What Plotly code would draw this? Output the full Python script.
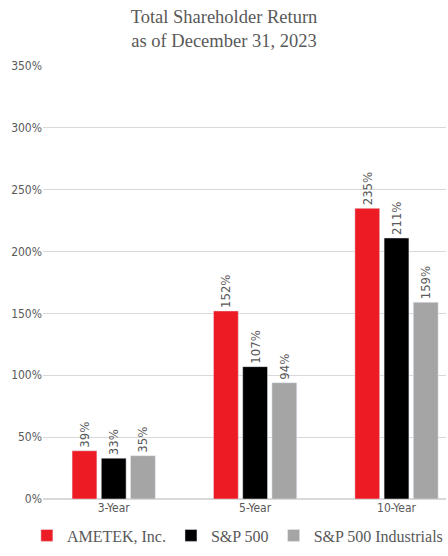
import plotly.graph_objects as go

periods = ["3-Year", "5-Year", "10-Year"]
ametek = [39, 152, 235]
sp500 = [33, 107, 211]
sp500_ind = [35, 94, 159]

series = [
    ("AMETEK, Inc.", ametek, "#ED1C24"),
    ("S&P 500", sp500, "#000000"),
    ("S&P 500 Industrials", sp500_ind, "#A5A5A5"),
]

sans = "Liberation Sans Narrow, DejaVu Sans Condensed, Arial"
serif = "Liberation Serif, Times New Roman"

fig = go.Figure()
for name, vals, color in series:
    fig.add_trace(go.Bar(
        x=periods, y=vals, name=name, marker_color=color,
        text=[f"{v}%" for v in vals], textposition="outside",
        textangle=-90, cliponaxis=False, constraintext="none",
        textfont=dict(family=sans, size=13, color="#595959"),
    ))

fig.update_layout(
    width=448, height=556,
    margin=dict(l=43, r=2, t=66, b=57),
    plot_bgcolor="white", paper_bgcolor="white",
    barmode="group", bargap=0.38, bargroupgap=0.15,
    title=dict(
        text="Total Shareholder Return<br>as of December 31, 2023",
        x=0.5, xanchor="center", y=0.958, yanchor="middle",
        font=dict(family=serif, size=18.5, color="#595959"),
    ),
    xaxis=dict(
        range=[-0.5, 2.35], showgrid=False, showline=False,
        tickfont=dict(family=sans, size=12, color="#595959"),
    ),
    yaxis=dict(
        range=[0, 350], dtick=50, ticksuffix="%",
        showgrid=True, gridcolor="#D9D9D9", gridwidth=1,
        zeroline=True, zerolinecolor="#D9D9D9",
        tickfont=dict(family=sans, size=12, color="#595959"),
    ),
    legend=dict(
        orientation="h", x=-0.04, xanchor="left", y=-0.045, yanchor="top",
        font=dict(family=serif, size=16, color="#595959"),
        itemwidth=30, traceorder="normal", tracegroupgap=0,
    ),
)

fig.write_html("out.html", config={"displayModeBar": False},
               post_script="document.body.style.margin='0';document.body.style.overflow='hidden';")
